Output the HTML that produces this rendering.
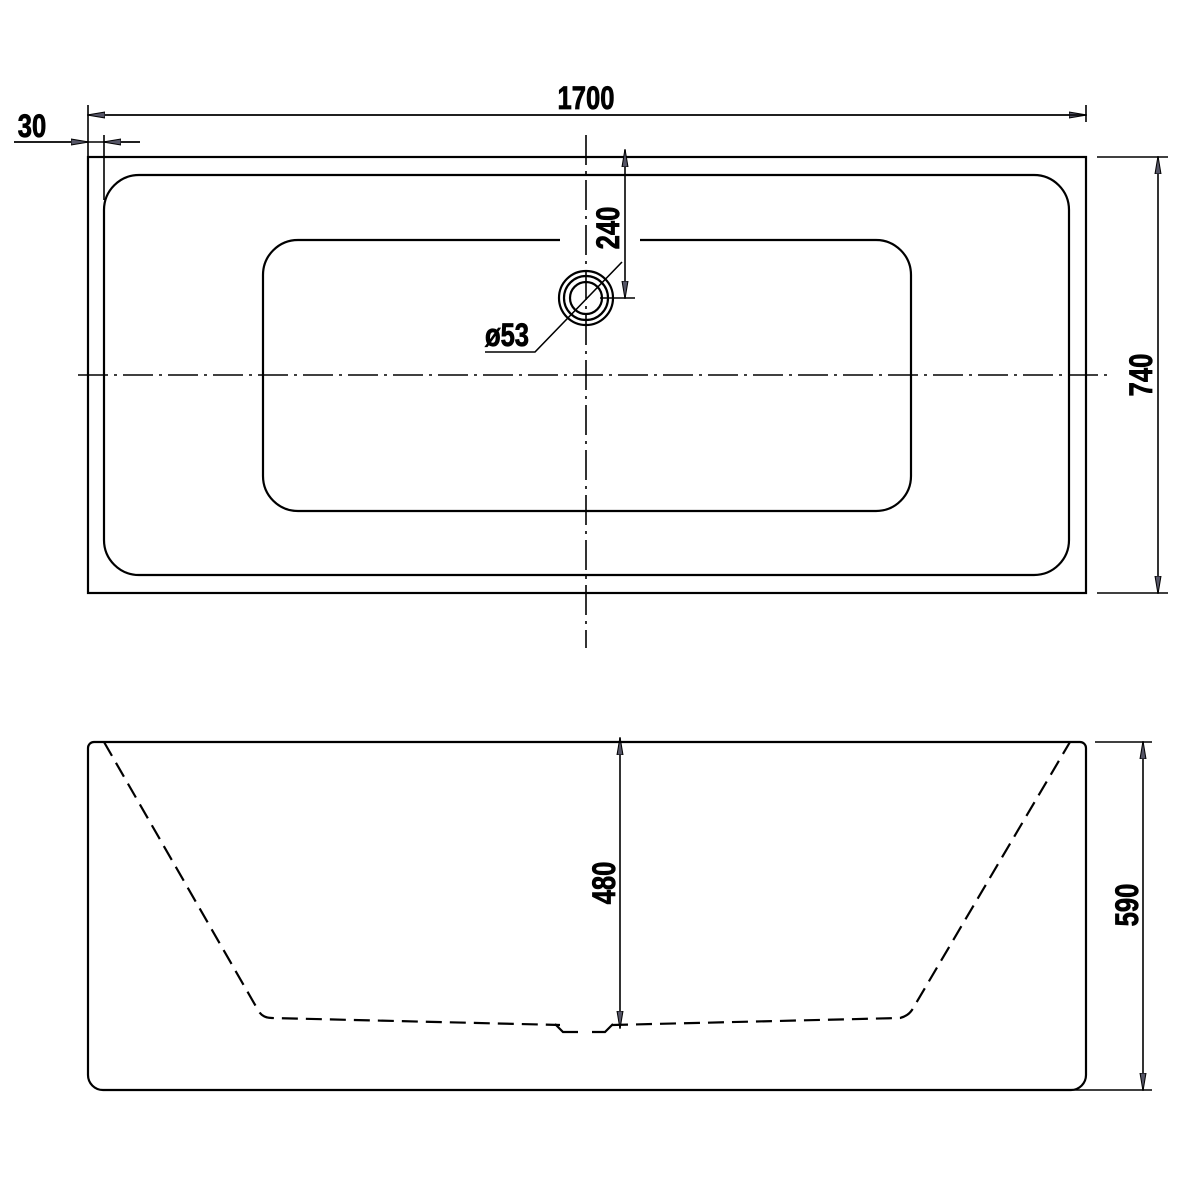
<!DOCTYPE html>
<html><head><style>html,body{margin:0;padding:0;background:#fff}svg{display:block}text{font-family:"Liberation Sans",sans-serif;font-weight:bold;font-size:32px;fill:#000;stroke:#000;stroke-width:0.8}</style></head><body>
<svg width="1181" height="1181" viewBox="0 0 1181 1181" xmlns="http://www.w3.org/2000/svg">
<defs><marker id="a" markerWidth="18" markerHeight="8" refX="17" refY="4" orient="auto" markerUnits="userSpaceOnUse"><path d="M0,1 L18,4 L0,7 Z" fill="#556" stroke="#000" stroke-width="1"/></marker></defs>
<g fill="none" stroke="#000" stroke-width="2.2">
<rect x="88" y="157" width="998" height="436"/>
<rect x="104" y="175" width="965" height="400" rx="35"/>
<path d="M560,240 H298 A35,35 0 0 0 263,275 V476 A35,35 0 0 0 298,511 H876 A35,35 0 0 0 911,476 V275 A35,35 0 0 0 876,240 H640"/>
<circle cx="586" cy="298" r="27"/><circle cx="586" cy="298" r="22"/><circle cx="586" cy="298" r="16"/>
<g stroke-width="1.6">
<path d="M78,375 H1110" stroke-dasharray="30,6,3,6"/>
<path d="M586,135 V648" stroke-dasharray="30,6,3,6"/>
<path d="M88,105 V157 M1086,105 V122 M104,135 V200 M14,142 H140"/>
<path d="M104,115 H1086" marker-end="url(#a)"/><path d="M1086,115 H88" marker-end="url(#a)"/>
<path d="M14,142 H88" marker-end="url(#a)"/><path d="M140,142 H104" marker-end="url(#a)"/>
<path d="M1097,157 H1168 M1097,593 H1168"/>
<path d="M1158,375 V157" marker-end="url(#a)"/><path d="M1158,375 V593" marker-end="url(#a)"/>
<path d="M625,220 V150" marker-end="url(#a)"/><path d="M625,220 V298" marker-end="url(#a)"/><path d="M600,298 H635"/>
<path d="M622,262 L535,352 H485"/>
<path d="M1095,742 H1152 M1058,1090 H1152"/>
<path d="M1143,900 V742" marker-end="url(#a)"/><path d="M1143,900 V1090" marker-end="url(#a)"/>
<path d="M620,880 V738" marker-end="url(#a)"/><path d="M620,880 V1028" marker-end="url(#a)"/>
</g>
<path d="M94,742 H1080 A6,6 0 0 1 1086,748 V1075 A15,15 0 0 1 1071,1090 H103 A15,15 0 0 1 88,1075 V748 A6,6 0 0 1 94,742 Z"/>
<path d="M104,742 L258,1010 Q262,1018 272,1018 L560,1025 M612,1025 L900,1018 Q908,1016 912,1010 L1070,742" stroke-dasharray="16,8"/>
<path d="M555,1024 L563,1032 H578 M592,1032 H605 L613,1024"/>
</g>
<text x="586" y="109" text-anchor="middle" transform="translate(586,0) scale(0.8,1) translate(-586,0)">1700</text>
<text x="32" y="137" text-anchor="middle" transform="translate(32,0) scale(0.8,1) translate(-32,0)">30</text>
<text transform="translate(1152,375) rotate(-90) scale(0.8,1)" text-anchor="middle">740</text>
<text transform="translate(619,228) rotate(-90) scale(0.8,1)" text-anchor="middle">240</text>
<text transform="translate(615,883) rotate(-90) scale(0.8,1)" text-anchor="middle">480</text>
<text transform="translate(1138,905) rotate(-90) scale(0.8,1)" text-anchor="middle">590</text>
<text x="507" y="346" text-anchor="middle" transform="translate(507,0) scale(0.8,1) translate(-507,0)">ø53</text>
</svg>
</body></html>
